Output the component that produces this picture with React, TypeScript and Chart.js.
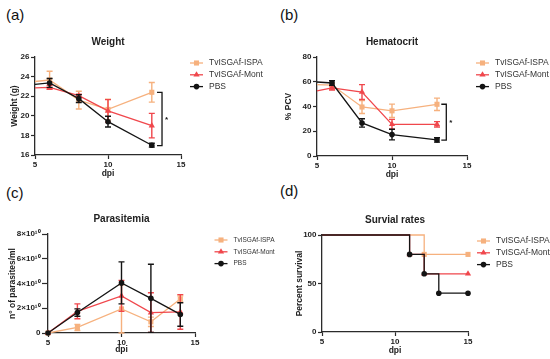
import React, { useEffect, useRef } from 'react';
import { Chart, registerables } from 'chart.js';

Chart.register(...registerables);

const FONT = "'Liberation Sans', Arial, Helvetica, sans-serif";
const ORANGE = '#F6B17E';
const RED = '#F0474C';
const BLACK = '#141414';
const AXIS = '#2b2b2b';
const TEXT = '#222222';

// ---------- data ----------
const seriesNames = ['TvISGAf-ISPA', 'TvISGAf-Mont', 'PBS'];

// (a) Weight (g)
const weightDays = [5, 6, 8, 10, 13];
const weightISPA = [23.5, 23.65, 21.6, 20.65, 22.4];
const weightISPAErr = [0, 0.9, 0.9, 1.05, 1.0];
const weightMont = [22.85, 22.9, 22.05, 20.5, 19.0];
const weightMontErr = [0, 0.2, 0.15, 1.15, 1.25];
const weightPBS = [23.2, 23.35, 21.75, 19.4, 17.0];
const weightPBSErr = [0, 0.45, 0.4, 0.55, 0.2];
const weightTicks = [16, 18, 20, 22, 24, 26];
const weightBracket = [13.7, 22.4, 16.95];

// (b) Hematocrit (% PCV)
const hctDays = [5, 6, 8, 10, 13];
const hctISPA = [57.7, 57.3, 39.6, 36.5, 41.8];
const hctISPAErr = [0, 1.5, 5.3, 5.4, 5.0];
const hctMont = [52.6, 55.0, 51.7, 25.6, 25.6];
const hctMontErr = [0, 1.7, 6.0, 4.0, 2.2];
const hctPBS = [59.8, 59.0, 26.7, 17.3, 13.0];
const hctPBSErr = [0, 1.8, 3.4, 4.3, 1.8];
const hctTicks = [0, 20, 40, 60, 80];
const hctBracket = [13.62, 41.8, 12.8];

// (c) Parasitemia (parasites/ml)
const paraDays = [5, 7, 10, 12, 14];
const paraISPA = [0, 0.45e10, 1.95e10, 0.9e10, 2.75e10];
const paraISPAErr = [0, 0.25e10, 1.95e10, 0.38e10, 0.25e10];
const paraMont = [0, 1.75e10, 3.0e10, 1.65e10, 1.7e10];
const paraMontErr = [0, 0.6e10, 1.25e10, 1.6e10, 1.4e10];
const paraPBS = [0, 1.65e10, 4.05e10, 2.8e10, 1.5e10];
const paraPBSErr = [0, 0.3e10, 1.7e10, 2.75e10, 0.95e10];
const paraTickValues = [0, 2e10, 4e10, 6e10, 8e10];
const paraTickLabels = ['0', '2×10¹⁰', '4×10¹⁰', '6×10¹⁰', '8×10¹⁰'];

// (d) Survival (%)
const survISPADays = [5, 12, 15];
const survISPA = [100, 80, 80];
const survMontDays = [5, 11, 12, 15];
const survMont = [100, 80, 60, 60];
const survPBSDays = [5, 11, 12, 13, 15];
const survPBS = [100, 80, 60, 40, 40];
const survTicks = [0, 50, 100];

const dayTicks = [5, 10, 15];

// ---------- styles ----------
const seriesStyles = [
  { color: ORANGE, pointStyle: 'rect', radius: 3.6 },
  { color: RED, pointStyle: 'triangle', radius: 3.6 },
  { color: BLACK, pointStyle: 'circle', radius: 2.8 },
];

function drawMarker(ctx: CanvasRenderingContext2D, style: string, x: number, y: number, r: number) {
  ctx.beginPath();
  if (style === 'rect') {
    const s = r * Math.SQRT1_2;
    ctx.rect(x - s, y - s, 2 * s, 2 * s);
  } else if (style === 'triangle') {
    let rad = 0;
    ctx.moveTo(x + Math.sin(rad) * r, y - Math.cos(rad) * r);
    rad += (2 * Math.PI) / 3;
    ctx.lineTo(x + Math.sin(rad) * r, y - Math.cos(rad) * r);
    rad += (2 * Math.PI) / 3;
    ctx.lineTo(x + Math.sin(rad) * r, y - Math.cos(rad) * r);
    ctx.closePath();
  } else {
    ctx.arc(x, y, r, 0, Math.PI * 2);
  }
  ctx.fill();
}

const extrasPlugin = {
  id: 'extras',
  beforeDatasetDraw(chart: any, args: any) {
    const ds = chart.data.datasets[args.index];
    const errs: number[] | undefined = ds.errors;
    if (!errs) return;
    const { ctx } = chart;
    const xs = chart.scales.x;
    const ys = chart.scales.y;
    ctx.save();
    ctx.strokeStyle = ds.borderColor;
    ctx.lineWidth = 1.4;
    const cap = 3;
    ds.data.forEach((p: any, i: number) => {
      const e = errs[i];
      if (!e) return;
      const x = xs.getPixelForValue(p.x);
      const hiV = p.y + e;
      const loV = p.y - e;
      const hi = Math.min(hiV, ys.max);
      const lo = Math.max(loV, ys.min);
      const yTop = ys.getPixelForValue(hi);
      const yBot = ys.getPixelForValue(lo);
      ctx.beginPath();
      ctx.moveTo(x, yTop);
      ctx.lineTo(x, yBot);
      if (hi === hiV) {
        ctx.moveTo(x - cap, yTop);
        ctx.lineTo(x + cap, yTop);
      }
      if (lo === loV) {
        ctx.moveTo(x - cap, yBot);
        ctx.lineTo(x + cap, yBot);
      }
      ctx.stroke();
    });
    ctx.restore();
  },
  afterDraw(chart: any, _args: any, opts: any) {
    const { ctx, chartArea } = chart;
    ctx.save();
    // title
    ctx.fillStyle = TEXT;
    ctx.font = `bold 10px ${FONT}`;
    ctx.textAlign = 'center';
    ctx.textBaseline = 'middle';
    ctx.fillText(opts.title, (chartArea.left + chartArea.right) / 2, chartArea.top - 15);
    // legend
    ctx.font = `${opts.legendFontSize}px ${FONT}`;
    ctx.textAlign = 'left';
    const x0 = chartArea.right + opts.legendOffset;
    seriesNames.forEach((name, i) => {
      const st = seriesStyles[i];
      const y = chartArea.top + 6 + i * 11.8;
      ctx.strokeStyle = st.color;
      ctx.fillStyle = st.color;
      ctx.lineWidth = 1.3;
      ctx.beginPath();
      ctx.moveTo(x0, y);
      ctx.lineTo(x0 + 13, y);
      ctx.stroke();
      drawMarker(ctx, st.pointStyle, x0 + 6.5, y, st.radius);
      ctx.fillStyle = '#333';
      ctx.fillText(name, x0 + 19, y);
    });
    // significance bracket
    if (opts.bracket) {
      const [bx, by1, by2] = opts.bracket;
      const px = chart.scales.x.getPixelForValue(bx);
      const py1 = chart.scales.y.getPixelForValue(by1);
      const py2 = chart.scales.y.getPixelForValue(by2);
      ctx.strokeStyle = BLACK;
      ctx.lineWidth = 1.3;
      ctx.beginPath();
      ctx.moveTo(px - 5, py1);
      ctx.lineTo(px, py1);
      ctx.lineTo(px, py2);
      ctx.lineTo(px - 5, py2);
      ctx.stroke();
      ctx.fillStyle = BLACK;
      ctx.font = `bold 8px ${FONT}`;
      ctx.textAlign = 'left';
      ctx.fillText('*', px + 3, (py1 + py2) / 2 + 1);
    }
    ctx.restore();
  },
};

function lineSeries(xs: number[], ys: number[], errs: number[] | null, i: number, hideFirst: boolean, stepped = false) {
  const st = seriesStyles[i];
  return {
    label: seriesNames[i],
    data: xs.map((x, k) => ({ x, y: ys[k] })),
    errors: errs,
    borderColor: st.color,
    backgroundColor: st.color,
    borderWidth: 1.3,
    pointStyle: st.pointStyle,
    pointRadius: xs.map((_, k) => (hideFirst && k === 0 ? 0 : st.radius)),
    pointBorderWidth: 0,
    pointBackgroundColor: st.color,
    stepped,
    tension: 0,
    clip: 8,
    order: 3 - i,
  };
}

type PanelCfg = {
  left: number;
  top: number;
  w: number;
  h: number;
  padTop: number;
  padRight: number;
  yWidth: number;
  xHeight: number;
  yTitle: string;
  yTitlePad: number;
  xTitlePad: number;
  yMin: number;
  yMax: number;
  yTickValues: number[];
  yTickLabels?: string[];
  yTickLength: number;
  title: string;
  legendOffset: number;
  legendFontSize: number;
  bracket?: number[];
  datasets: any[];
};

function Panel({ cfg }: { cfg: PanelCfg }) {
  const ref = useRef<HTMLCanvasElement>(null);
  useEffect(() => {
    const tickFont = { family: FONT, size: 8, weight: 'bold' as const };
    const titleFont = { family: FONT, size: 8.5, weight: 'bold' as const };
    const chart = new Chart(ref.current as HTMLCanvasElement, {
      type: 'line',
      data: { datasets: cfg.datasets },
      plugins: [extrasPlugin as any],
      options: {
        animation: false,
        responsive: false,
        devicePixelRatio: 1,
        layout: {
          autoPadding: false,
          padding: { top: cfg.padTop, right: cfg.padRight, left: 0, bottom: 0 },
        },
        plugins: {
          legend: { display: false },
          tooltip: { enabled: false },
          title: { display: false },
          extras: {
            title: cfg.title,
            legendOffset: cfg.legendOffset,
            legendFontSize: cfg.legendFontSize,
            bracket: cfg.bracket,
          },
        } as any,
        scales: {
          x: {
            type: 'linear',
            min: 5,
            max: 15,
            afterBuildTicks: (s: any) => {
              s.ticks = dayTicks.map((v) => ({ value: v }));
            },
            afterFit: (s: any) => {
              s.height = cfg.xHeight;
            },
            ticks: { font: tickFont, color: TEXT, padding: 1, maxRotation: 0, autoSkip: false },
            grid: {
              display: true,
              drawOnChartArea: false,
              drawTicks: true,
              tickLength: 4,
              tickColor: AXIS,
              tickWidth: 1.2,
              color: AXIS,
            },
            border: { display: true, color: AXIS, width: 1.3 },
            title: {
              display: true,
              text: 'dpi',
              font: titleFont,
              color: TEXT,
              padding: { top: 0, bottom: cfg.xTitlePad },
            },
          },
          y: {
            type: 'linear',
            min: cfg.yMin,
            max: cfg.yMax,
            afterBuildTicks: (s: any) => {
              s.ticks = cfg.yTickValues.map((v) => ({ value: v }));
            },
            afterFit: (s: any) => {
              s.width = cfg.yWidth;
            },
            ticks: {
              font: tickFont,
              color: TEXT,
              padding: 1.5,
              autoSkip: false,
              callback: (v: any) => {
                const k = cfg.yTickValues.indexOf(Number(v));
                if (cfg.yTickLabels && k >= 0) return cfg.yTickLabels[k];
                return String(v);
              },
            },
            grid: {
              display: true,
              drawOnChartArea: false,
              drawTicks: true,
              tickLength: cfg.yTickLength,
              tickColor: AXIS,
              tickWidth: 1.2,
              color: AXIS,
            },
            border: { display: true, color: AXIS, width: 1.3 },
            title: {
              display: true,
              text: cfg.yTitle,
              font: titleFont,
              color: TEXT,
              padding: { top: cfg.yTitlePad, bottom: 0 },
            },
          },
        },
      } as any,
    });
    return () => chart.destroy();
  }, [cfg]);
  return (
    <canvas
      ref={ref}
      width={cfg.w}
      height={cfg.h}
      style={{ position: 'absolute', left: cfg.left, top: cfg.top, width: cfg.w, height: cfg.h }}
    />
  );
}

const panelA: PanelCfg = {
  left: 0, top: 30, w: 275, h: 150,
  padTop: 27, padRight: 94, yWidth: 35, xHeight: 25,
  yTitle: 'Weight (g)', yTitlePad: 10, xTitlePad: 1,
  yMin: 16, yMax: 26, yTickValues: weightTicks, yTickLength: 4,
  title: 'Weight', legendOffset: 9, legendFontSize: 8.5, bracket: weightBracket,
  datasets: [
    lineSeries(weightDays, weightISPA, weightISPAErr, 0, true),
    lineSeries(weightDays, weightMont, weightMontErr, 1, true),
    lineSeries(weightDays, weightPBS, weightPBSErr, 2, true),
  ],
};

const panelB: PanelCfg = {
  left: 275, top: 30, w: 275, h: 150,
  padTop: 27, padRight: 83, yWidth: 42, xHeight: 24,
  yTitle: '% PCV', yTitlePad: 9, xTitlePad: 0,
  yMin: 0, yMax: 80, yTickValues: hctTicks, yTickLength: 4,
  title: 'Hematocrit', legendOffset: 9, legendFontSize: 8.5, bracket: hctBracket,
  datasets: [
    lineSeries(hctDays, hctISPA, hctISPAErr, 0, true),
    lineSeries(hctDays, hctMont, hctMontErr, 1, true),
    lineSeries(hctDays, hctPBS, hctPBSErr, 2, true),
  ],
};

const panelC: PanelCfg = {
  left: 0, top: 205, w: 275, h: 154,
  padTop: 29, padRight: 80, yWidth: 48, xHeight: 26,
  yTitle: 'n° of parasites/ml', yTitlePad: 7.6, xTitlePad: 3.9,
  yMin: 0, yMax: 8e10, yTickValues: paraTickValues, yTickLabels: paraTickLabels, yTickLength: 6,
  title: 'Parasitemia', legendOffset: 19.5, legendFontSize: 6.5,
  datasets: [
    lineSeries(paraDays, paraISPA, paraISPAErr, 0, false),
    lineSeries(paraDays, paraMont, paraMontErr, 1, false),
    lineSeries(paraDays, paraPBS, paraPBSErr, 2, false),
  ],
};

const panelD: PanelCfg = {
  left: 275, top: 205, w: 275, h: 154,
  padTop: 30, padRight: 82, yWidth: 47, xHeight: 27,
  yTitle: 'Percent survival', yTitlePad: 20, xTitlePad: 2.9,
  yMin: 0, yMax: 100, yTickValues: survTicks, yTickLength: 4,
  title: 'Survial rates', legendOffset: 9, legendFontSize: 8.5,
  datasets: [
    lineSeries(survISPADays, survISPA, null, 0, true, true),
    lineSeries(survMontDays, survMont, null, 1, true, true),
    lineSeries(survPBSDays, survPBS, null, 2, true, true),
  ],
};

const labelStyle = (left: number, top: number): React.CSSProperties => ({
  position: 'absolute',
  left,
  top,
  fontFamily: FONT,
  fontSize: 15,
  lineHeight: '17px',
  color: '#111',
});

export default function App() {
  return (
    <div
      style={{
        position: 'fixed',
        left: 0,
        top: 0,
        width: 550,
        height: 359,
        background: '#ffffff',
        overflow: 'hidden',
      }}
    >
      <Panel cfg={panelA} />
      <Panel cfg={panelB} />
      <Panel cfg={panelC} />
      <Panel cfg={panelD} />
      <div style={labelStyle(6, 6)}>(a)</div>
      <div style={labelStyle(280, 6)}>(b)</div>
      <div style={labelStyle(6, 184)}>(c)</div>
      <div style={labelStyle(280, 182)}>(d)</div>
    </div>
  );
}
